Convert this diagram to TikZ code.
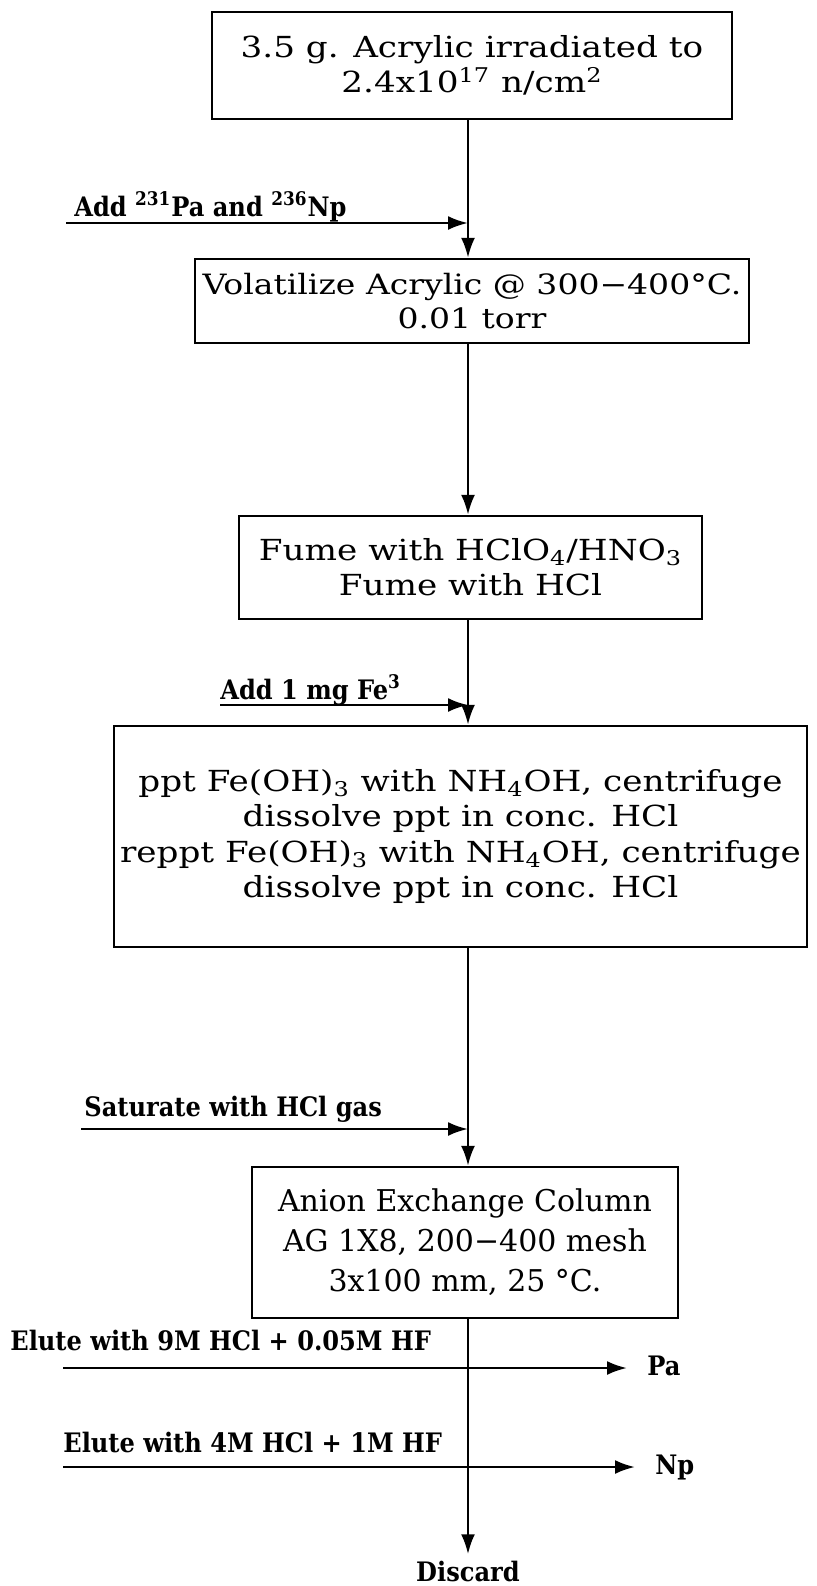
\documentclass[tikz,border=0pt]{standalone}
\usepackage{fontspec}
\setmainfont{DejaVu Serif}[FakeStretch=1.18]
\newfontfamily\colfont{DejaVu Serif}
\newfontfamily\lblfont{DejaVu Serif Condensed}
\usetikzlibrary{arrows.meta}

\begin{document}
\begin{tikzpicture}[x=0.5pt,y=-0.5pt,every node/.style={inner sep=0pt},
  stepbox/.style={draw,line width=1.2pt,align=center,font=\fontsize{14.5}{17.5}\selectfont},
  addlbl/.style={anchor=base west,font=\lblfont\bfseries\fontsize{13.4}{15}\selectfont},
  flow/.style={line width=1.3pt,-{Latex[length=10pt,width=7pt]}}]
  \useasboundingbox (0,0) rectangle (817,1586);
  \coordinate (spine) at (468,0);
  % process steps
  \node[stepbox,minimum width=260pt,minimum height=53.5pt] (irr) at (472,65.5)
    {3.5 g. Acrylic irradiated to\\2.4x10\textsuperscript{17} n/cm\textsuperscript{2}};
  \node[stepbox,minimum width=277pt,minimum height=42pt,font=\fontsize{14}{17}\selectfont] (vol) at (472,301)
    {Volatilize Acrylic @ 300−400°C.\\0.01 torr};
  \node[stepbox,minimum width=231.5pt,minimum height=51.5pt] (fume) at (470.5,567.5)
    {Fume with HClO\textsubscript{4}/HNO\textsubscript{3}\\Fume with HCl};
  \node[stepbox,minimum width=346.5pt,minimum height=110.5pt,font=\fontsize{14.5}{17.75}\selectfont] (ppt) at (460.5,836.5)
    {ppt Fe(OH)\textsubscript{3} with NH\textsubscript{4}OH, centrifuge\\dissolve ppt in conc. HCl\\
     reppt Fe(OH)\textsubscript{3} with NH\textsubscript{4}OH, centrifuge\\dissolve ppt in conc. HCl};
  \node[stepbox,minimum width=213pt,minimum height=75.5pt,font=\colfont\fontsize{15}{20}\selectfont] (col) at (465,1242.5)
    {Anion Exchange Column\\AG 1X8, 200−400 mesh\\3x100 mm, 25 °C.};
  \node[anchor=base,font=\lblfont\bfseries\fontsize{13.4}{15}\selectfont] (disc) at (468,1581) {Discard};
  \node[addlbl] (pa) at (647,1375) {Pa};
  \node[addlbl] (np) at (655,1474) {Np};
  % additions
  \node[addlbl] (lpa) at (74,216) {Add \textsuperscript{231}Pa and \textsuperscript{236}Np};
  \node[addlbl] (lfe) at (220,699) {Add 1 mg Fe\textsuperscript{3}};
  \node[addlbl] (lhcl) at (84,1116) {Saturate with HCl gas};
  \node[addlbl] (lel1) at (10,1350) {Elute with 9M HCl + 0.05M HF};
  \node[addlbl] (lel2) at (63,1452) {Elute with 4M HCl + 1M HF};
  \coordinate (inpa) at (66,223);
  \coordinate (infe) at (220,705);
  \coordinate (inhcl) at (81,1129);
  \coordinate (inel1) at (63,1368);
  \coordinate (inel2) at (63,1467);
  % connectors
  \draw[flow] (irr.south -| spine) -- (vol.north -| spine);
  \draw[flow] (vol.south -| spine) -- (fume.north -| spine);
  \draw[flow] (fume.south -| spine) -- (ppt.north -| spine);
  \draw[flow] (ppt.south -| spine) -- (col.north -| spine);
  \draw[flow,shorten >=3pt] (col.south -| spine) -- (disc.north -| spine);
  \draw[flow] (inpa) -- (inpa -| spine);
  \draw[flow] (infe) -- (infe -| spine);
  \draw[flow] (inhcl) -- (inhcl -| spine);
  \draw[flow,shorten >=10pt] (inel1) -- (inel1 -| pa.west);
  \draw[flow,shorten >=10pt] (inel2) -- (inel2 -| np.west);
\end{tikzpicture}
\end{document}
